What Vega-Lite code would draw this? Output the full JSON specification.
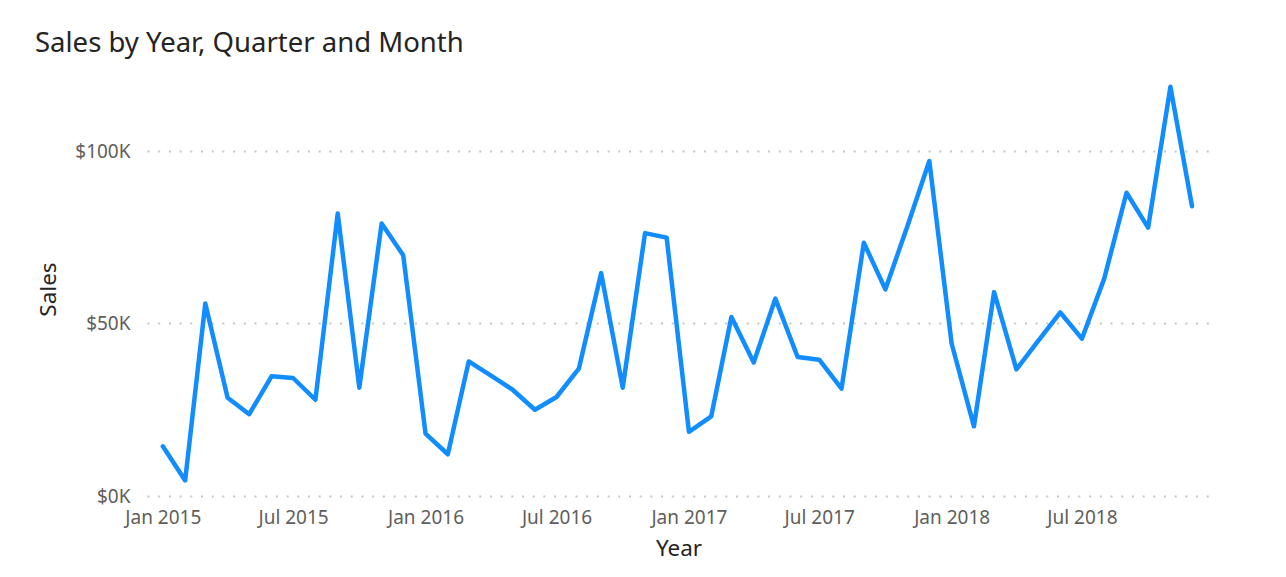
{
  "$schema": "https://vega.github.io/schema/vega-lite/v6.json",
  "autosize": {"type": "none"},
  "width": 1063,
  "height": 414,
  "padding": {"left": 147, "top": 82, "right": 76, "bottom": 81},
  "background": "white",
  "title": {
    "text": "Sales by Year, Quarter and Month",
    "anchor": "start",
    "frame": "group",
    "dx": -112,
    "offset": 25,
    "font": "Noto Sans",
    "fontSize": 27.5,
    "fontWeight": "normal",
    "color": "#252423"
  },
  "data": {
    "values": [
      {"Month": "2015-01-01T00:00:00", "Sales": 14400},
      {"Month": "2015-02-01T00:00:00", "Sales": 4500},
      {"Month": "2015-03-01T00:00:00", "Sales": 55800},
      {"Month": "2015-04-01T00:00:00", "Sales": 28500},
      {"Month": "2015-05-01T00:00:00", "Sales": 23700},
      {"Month": "2015-06-01T00:00:00", "Sales": 34700},
      {"Month": "2015-07-01T00:00:00", "Sales": 34200},
      {"Month": "2015-08-01T00:00:00", "Sales": 27900},
      {"Month": "2015-09-01T00:00:00", "Sales": 81900},
      {"Month": "2015-10-01T00:00:00", "Sales": 31400},
      {"Month": "2015-11-01T00:00:00", "Sales": 79000},
      {"Month": "2015-12-01T00:00:00", "Sales": 69800},
      {"Month": "2016-01-01T00:00:00", "Sales": 18100},
      {"Month": "2016-02-01T00:00:00", "Sales": 12100},
      {"Month": "2016-03-01T00:00:00", "Sales": 39000},
      {"Month": "2016-04-01T00:00:00", "Sales": 34900},
      {"Month": "2016-05-01T00:00:00", "Sales": 30800},
      {"Month": "2016-06-01T00:00:00", "Sales": 25000},
      {"Month": "2016-07-01T00:00:00", "Sales": 28700},
      {"Month": "2016-08-01T00:00:00", "Sales": 36900},
      {"Month": "2016-09-01T00:00:00", "Sales": 64600},
      {"Month": "2016-10-01T00:00:00", "Sales": 31400},
      {"Month": "2016-11-01T00:00:00", "Sales": 76200},
      {"Month": "2016-12-01T00:00:00", "Sales": 74900},
      {"Month": "2017-01-01T00:00:00", "Sales": 18600},
      {"Month": "2017-02-01T00:00:00", "Sales": 23100},
      {"Month": "2017-03-01T00:00:00", "Sales": 51900},
      {"Month": "2017-04-01T00:00:00", "Sales": 38700},
      {"Month": "2017-05-01T00:00:00", "Sales": 57200},
      {"Month": "2017-06-01T00:00:00", "Sales": 40300},
      {"Month": "2017-07-01T00:00:00", "Sales": 39500},
      {"Month": "2017-08-01T00:00:00", "Sales": 31100},
      {"Month": "2017-09-01T00:00:00", "Sales": 73400},
      {"Month": "2017-10-01T00:00:00", "Sales": 59900},
      {"Month": "2017-11-01T00:00:00", "Sales": 78500},
      {"Month": "2017-12-01T00:00:00", "Sales": 97100},
      {"Month": "2018-01-01T00:00:00", "Sales": 44200},
      {"Month": "2018-02-01T00:00:00", "Sales": 20200},
      {"Month": "2018-03-01T00:00:00", "Sales": 59100},
      {"Month": "2018-04-01T00:00:00", "Sales": 36700},
      {"Month": "2018-05-01T00:00:00", "Sales": 44900},
      {"Month": "2018-06-01T00:00:00", "Sales": 53200},
      {"Month": "2018-07-01T00:00:00", "Sales": 45600},
      {"Month": "2018-08-01T00:00:00", "Sales": 63000},
      {"Month": "2018-09-01T00:00:00", "Sales": 87900},
      {"Month": "2018-10-01T00:00:00", "Sales": 77800},
      {"Month": "2018-11-01T00:00:00", "Sales": 118600},
      {"Month": "2018-12-01T00:00:00", "Sales": 84000}
    ]
  },
  "mark": {"type": "line", "color": "#118DFF", "strokeWidth": 4.5, "strokeJoin": "round", "strokeCap": "round"},
  "encoding": {
    "x": {
      "field": "Month",
      "type": "temporal",
      "title": "Year",
      "scale": {
        "domain": [
          {"year": 2014, "month": 12, "date": 10},
          {"year": 2018, "month": 12, "date": 26}
        ],
        "nice": false
      },
      "axis": {
        "values": [
          {"year": 2015, "month": 1, "date": 1},
          {"year": 2015, "month": 7, "date": 1},
          {"year": 2016, "month": 1, "date": 1},
          {"year": 2016, "month": 7, "date": 1},
          {"year": 2017, "month": 1, "date": 1},
          {"year": 2017, "month": 7, "date": 1},
          {"year": 2018, "month": 1, "date": 1},
          {"year": 2018, "month": 7, "date": 1}
        ],
        "format": "%b %Y",
        "grid": false,
        "domain": false,
        "ticks": false,
        "tickSize": 0,
        "labelPadding": 12,
        "labelFont": "Noto Sans",
        "labelFontSize": 19,
        "labelColor": "#605E5C",
        "labelOverlap": false,
        "titleFont": "Noto Sans",
        "titleFontSize": 22.5,
        "titleFontWeight": "normal",
        "titleColor": "#252423",
        "titlePadding": 10
      }
    },
    "y": {
      "field": "Sales",
      "type": "quantitative",
      "title": "Sales",
      "scale": {"domain": [0, 120000], "nice": false},
      "axis": {
        "values": [0, 50000, 100000],
        "labelExpr": "'$' + format(datum.value / 1000, 'd') + 'K'",
        "grid": true,
        "gridColor": "#C8C6C4",
        "gridDash": [2, 8.7],
        "gridWidth": 2,
        "domain": false,
        "ticks": false,
        "tickSize": 0,
        "labelPadding": 17,
        "labelFont": "Noto Sans",
        "labelFontSize": 19,
        "labelColor": "#605E5C",
        "titleFont": "Noto Sans",
        "titleFontSize": 22.5,
        "titleFontWeight": "normal",
        "titleColor": "#252423",
        "titlePadding": 14
      }
    }
  },
  "config": {
    "view": {"stroke": null}
  }
}
